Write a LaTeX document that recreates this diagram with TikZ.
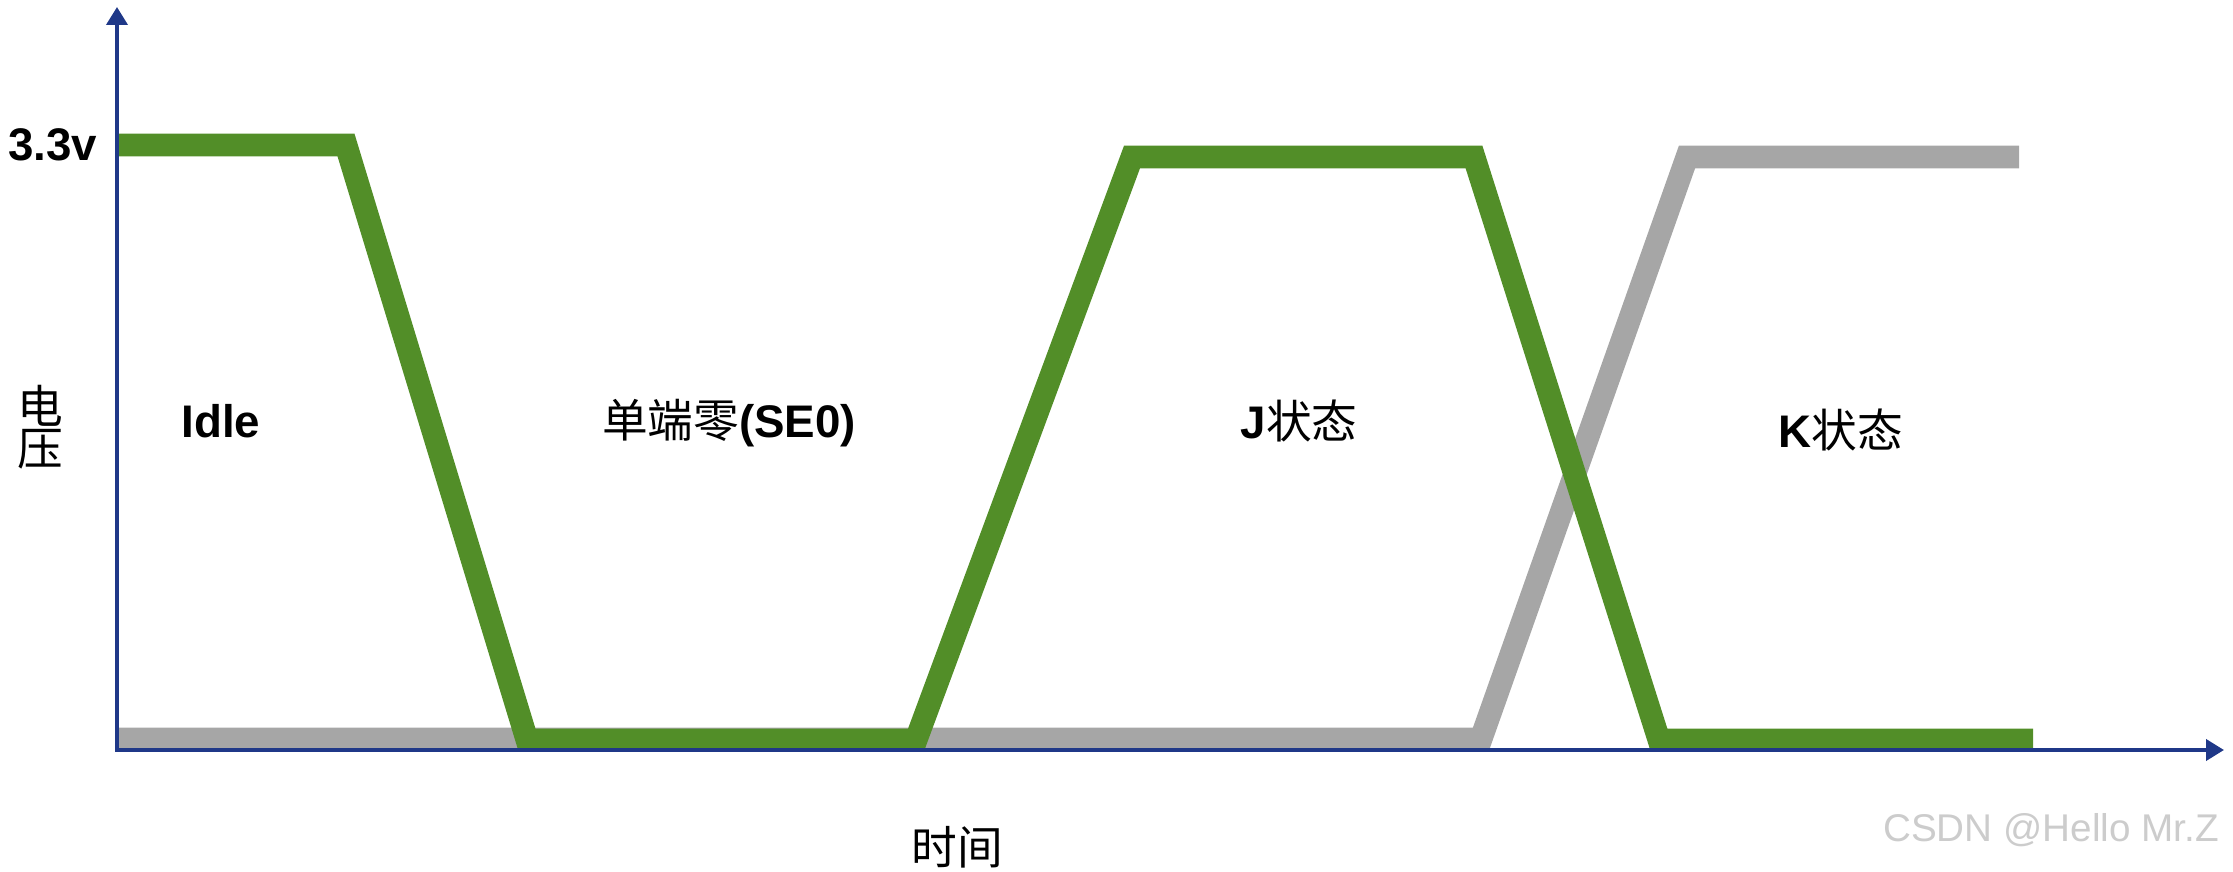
\documentclass[tikz,border=0pt]{standalone}
\usepackage{fontspec}
\setmainfont{Liberation Sans}
\newfontfamily\cjk{Noto Sans CJK SC}
\usetikzlibrary{arrows.meta}
\definecolor{usbgreen}{RGB}{82,142,40}
\definecolor{usbgray}{RGB}{166,166,166}
\definecolor{axblue}{RGB}{31,56,136}
\tikzset{
  axisln/.style={axblue, line width=1.1pt,
    {Triangle[length=1.8mm,width=2.1mm]}-{Triangle[length=1.8mm,width=2.1mm]}},
  dpline/.style={usbgreen, line width=6.5pt},
  dmline/.style={usbgray, line width=6.5pt},
  lbl/.style={font=\fontsize{13}{15}\selectfont\bfseries, inner sep=0pt},
  cjklbl/.style={font=\fontsize{13}{15}\selectfont\cjk, inner sep=0pt, align=center},
  wmark/.style={font=\fontsize{11}{13}\selectfont, text=gray!40, inner sep=0pt},
}

\begin{document}
\begin{tikzpicture}
        \useasboundingbox (0,0) rectangle (22.33,8.71);
        \coordinate (orig) at (1.17,1.21);
        \coordinate (ytip) at (1.17,8.64);
        \coordinate (xtip) at (22.24,1.21);
        % D- line (gray) under D+ line (green)
        \draw[dmline] (1.17,1.32) -- (14.81,1.32) -- (16.87,7.14) -- (20.19,7.14);
        \draw[dpline] (1.17,7.26) -- (3.46,7.26) -- (5.27,1.31) -- (9.16,1.31)
          -- (11.32,7.14) -- (14.74,7.14) -- (16.59,1.31) -- (20.33,1.31);
        \draw[axisln] (ytip) -- (orig) -- (xtip);
        \node[lbl, anchor=east] (vhigh) at (0.98,7.26) {3.3v};
        \node[cjklbl] (vaxis) at (0.40,4.44) {电\\[-3pt]压};
        \node[cjklbl] (taxis) at (9.57,0.24) {时间};
        \node[lbl] (idle) at (2.21,4.50) {Idle};
        \node[lbl] (se0) at (7.29,4.48) {{\cjk\mdseries 单端零}(SE0)};
        \node[lbl] (jst) at (12.99,4.50) {J{\cjk\mdseries 状态}};
        \node[lbl] (kst) at (18.41,4.41) {K{\cjk\mdseries 状态}};
        \node[wmark] (mark) at (20.51,0.41) {CSDN @Hello Mr.Z};
      \end{tikzpicture}
\end{document}
